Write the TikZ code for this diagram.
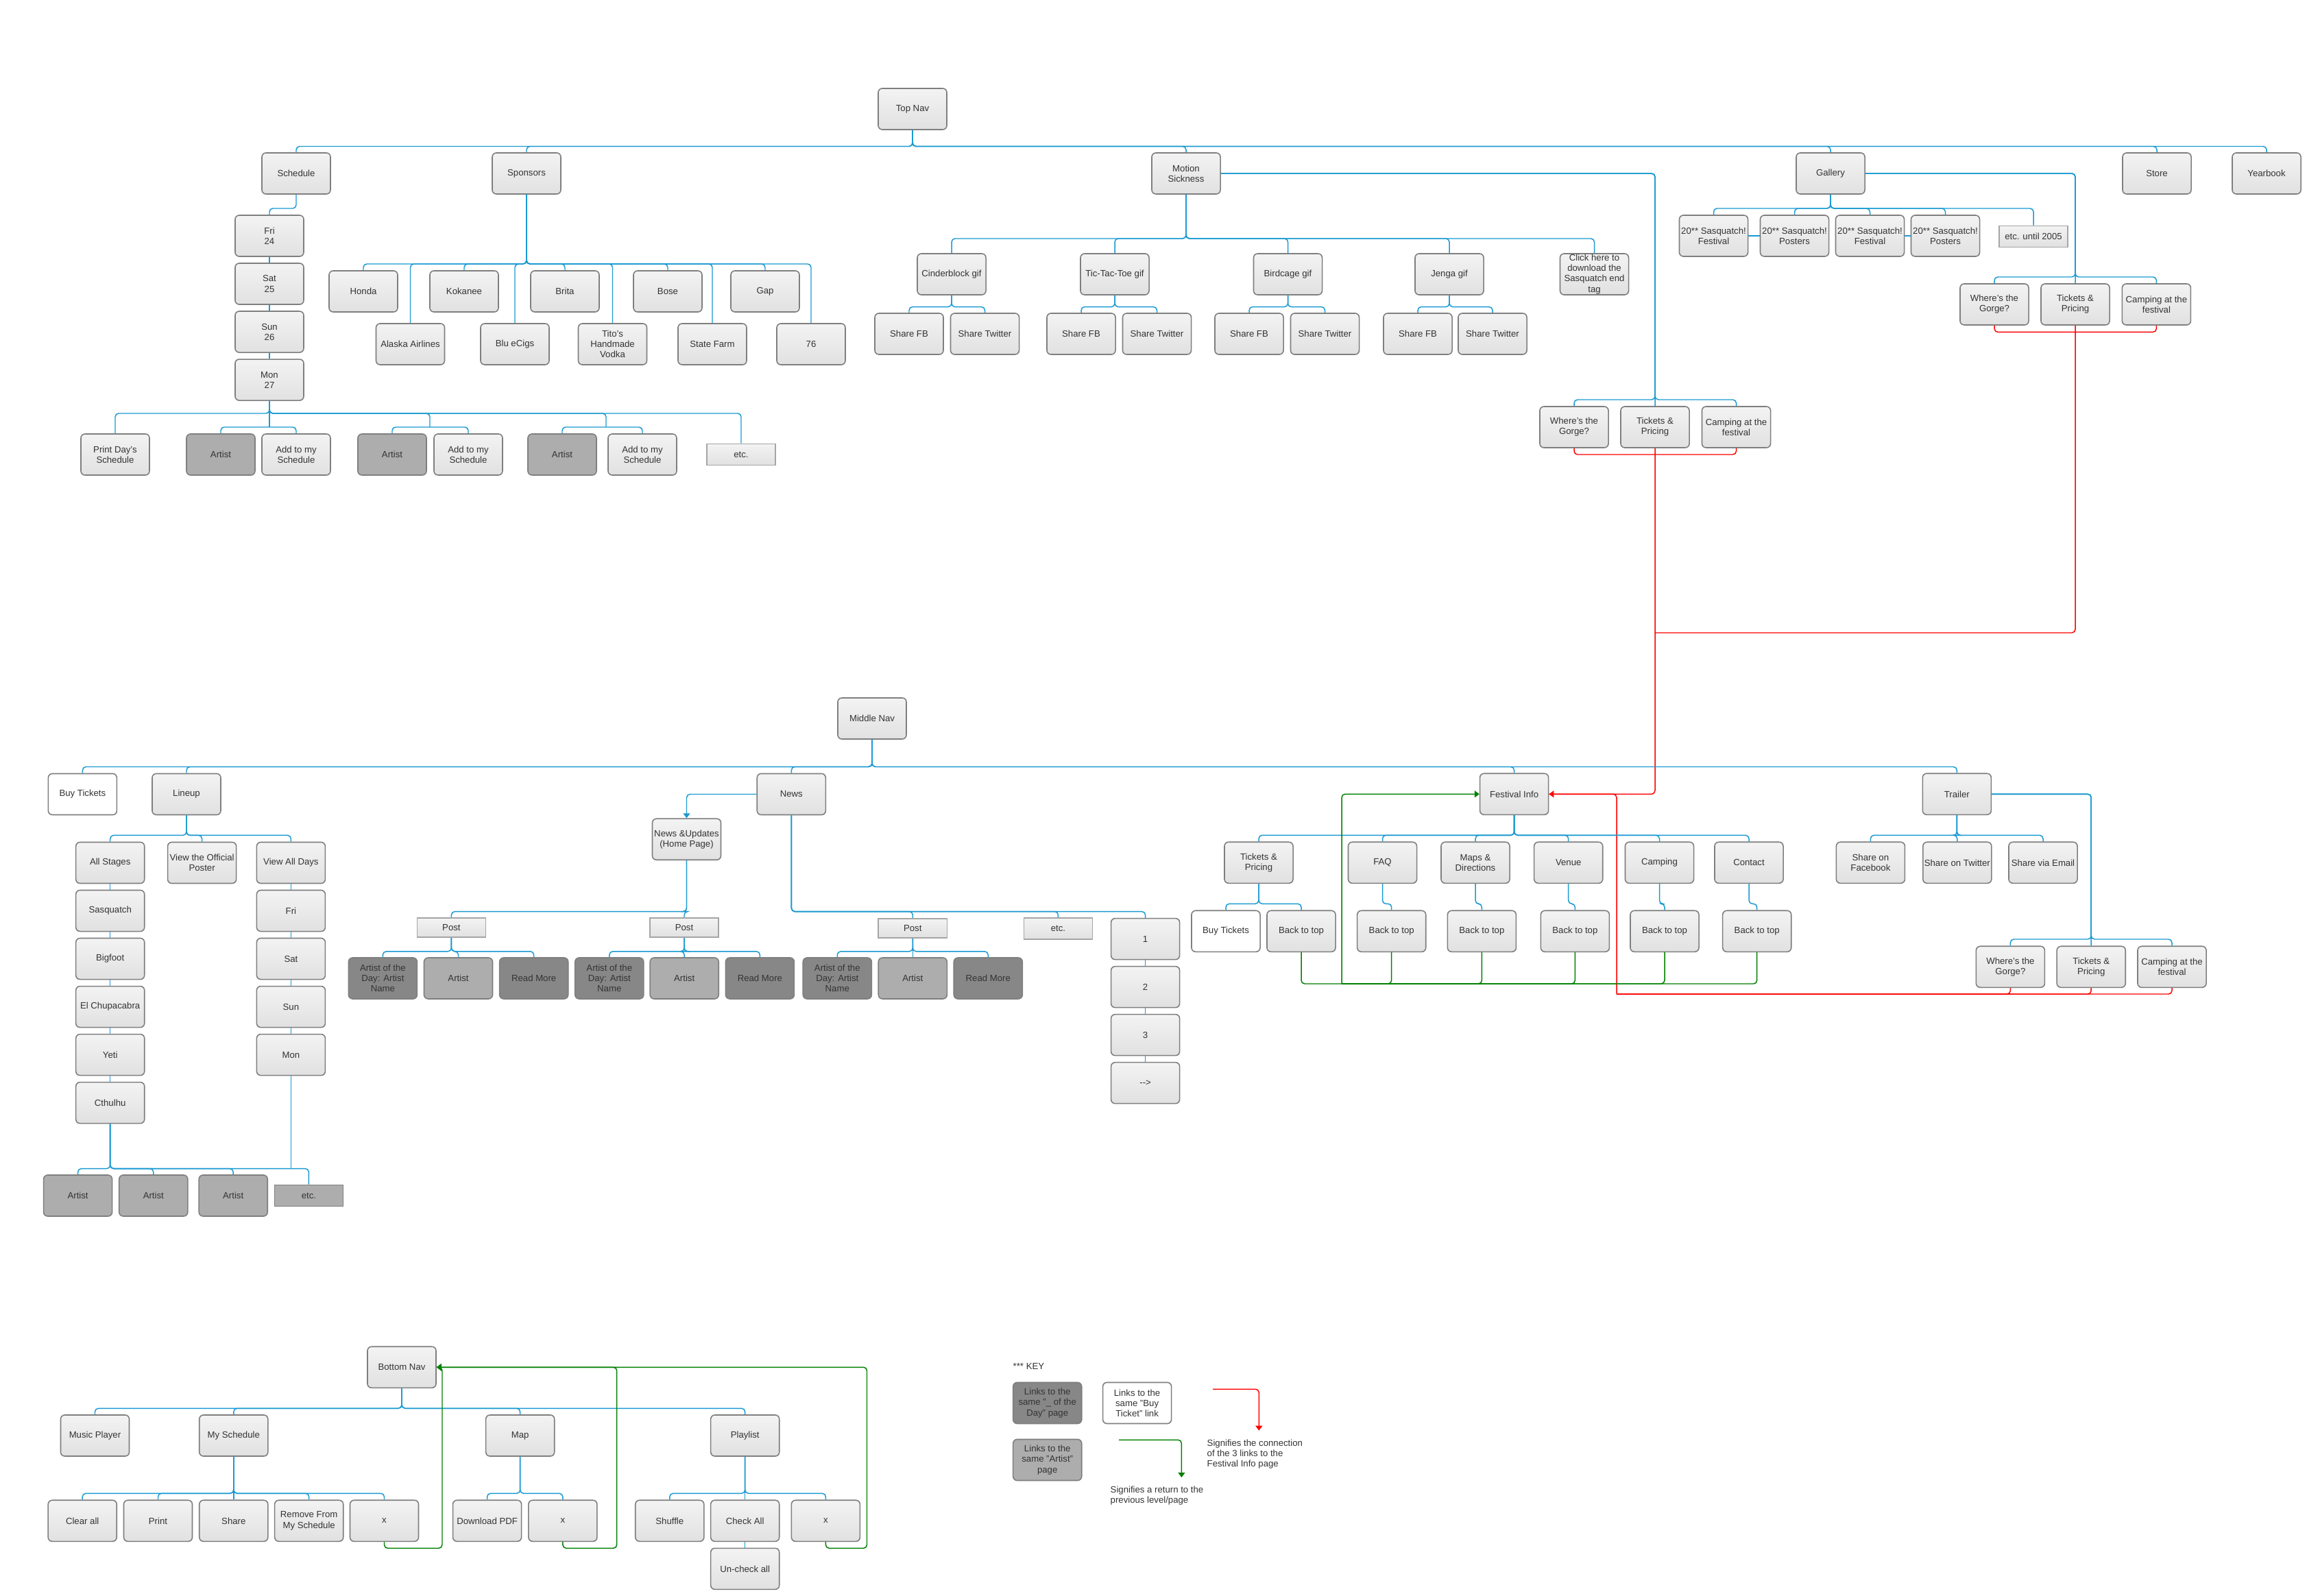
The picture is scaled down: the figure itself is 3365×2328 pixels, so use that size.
\documentclass[tikz,border=0pt]{standalone}
\usepackage{fontspec}
\setmainfont{Liberation Sans}
\usetikzlibrary{arrows.meta, positioning}
\definecolor{cLink}{HTML}{1B9AD2}
\definecolor{cBack}{HTML}{008000}
\definecolor{cEdge}{HTML}{7F7F7F}
\definecolor{cTop}{HTML}{F3F3F3}
\definecolor{cBot}{HTML}{E1E1E1}
\definecolor{cDay}{HTML}{878787}
\definecolor{cArt}{HTML}{ADADAD}
\definecolor{cText}{HTML}{333333}

\begin{document}
\begin{tikzpicture}[
  x=0.01cm, y=-0.01cm,
  node distance=0.084cm,
  font=\fontsize{3.75}{4.3}\selectfont,
  box/.style={rectangle, rounded corners=0.06cm, draw=cEdge, line width=0.45pt, top color=cTop, bottom color=cBot, minimum width=1cm, minimum height=0.6cm, inner sep=0.2pt, align=center, text=cText},
  dayart/.style={box, top color=cDay, bottom color=cDay},
  art/.style={box, top color=cArt, bottom color=cArt},
  buybox/.style={box, top color=white, bottom color=white},
  flat/.style={rectangle, draw=cEdge!70, line width=0.45pt, top color=cTop, bottom color=cBot, minimum width=1cm, minimum height=0.31cm, inner sep=0.2pt, text=cText},
  link/.style={draw=cLink, line width=0.42pt, rounded corners=0.05cm},
  tofest/.style={draw=red, line width=0.42pt, rounded corners=0.05cm},
  back/.style={draw=cBack, line width=0.42pt, rounded corners=0.05cm},
  >={Triangle[length=0.07cm, width=0.1cm]}
]
\useasboundingbox (0,0) rectangle (3365,2328);
\fill[white] (0,0) rectangle (3365,2328);

% bus levels
\coordinate (busTop) at (0,213.5);
\coordinate (busSched) at (0,304);
\coordinate (busMon) at (0,603);
\coordinate (pr1) at (393,623);
\coordinate (pr2) at (627,623);
\coordinate (pr3) at (884,623);
\coordinate (busSp) at (0,385);
\coordinate (busMS) at (0,348);
\coordinate (busShare) at (0,447.6);
\coordinate (busMSg) at (0,583);
\coordinate (redMS) at (0,663);
\coordinate (busGal) at (0,304);
\coordinate (busGalg) at (0,404);
\coordinate (redGal) at (0,484.4);
\coordinate (redJoin) at (0,923);
\coordinate (busMid) at (0,1118.5);
\coordinate (busLu) at (0,1218.4);
\coordinate (busLA) at (0,1704.6);
\coordinate (busNews) at (0,1329.6);
\coordinate (busPost) at (0,1387.8);
\coordinate (busFI) at (0,1218.3);
\coordinate (busFI2) at (0,1318.3);
\coordinate (gB) at (1957,1435);
\coordinate (busTr) at (0,1218.3);
\coordinate (busTrg) at (0,1370);
\coordinate (redTr) at (2358,1450);
\coordinate (busBot) at (0,2054.3);
\coordinate (busB2) at (0,2178.3);
\coordinate (g1) at (645,2258.3);
\coordinate (g2) at (899.7,2258.3);
\coordinate (g3) at (1264.5,2258.3);

% ---- top nav
\node[box] (TopNav) at (1331,159) {Top Nav};
\node[box] (Sched) at (432,253) {Schedule};
\node[box] (Spons) at (768,253) {Sponsors};
\node[box] (Motion) at (1730,253) {Motion\\Sickness};
\node[box] (Gallery) at (2670,253) {Gallery};
\node[box] (Store) at (3146,253) {Store};
\node[box] (Yearbook) at (3306,253) {Yearbook};

% schedule
\node[box] (dFri) at (393,344) {Fri\\24};
\node[box, below=of dFri] (dSat) {Sat\\25};
\node[box, below=of dSat] (dSun) {Sun\\26};
\node[box, below=of dSun] (dMon) {Mon\\27};
\node[box] (PrintDay) at (168,663) {Print Day's\\Schedule};
\node[art] (sArt1) at (322,663) {Artist};
\node[box] (sAdd1) at (432,663) {Add to my\\Schedule};
\node[art] (sArt2) at (572,663) {Artist};
\node[box] (sAdd2) at (683,663) {Add to my\\Schedule};
\node[art] (sArt3) at (820,663) {Artist};
\node[box] (sAdd3) at (937,663) {Add to my\\Schedule};
\node[flat] (sEtc) at (1081,663) {etc.};

% sponsors
\node[box] (spHonda) at (530,425) {Honda};
\node[box] (spKokanee) at (677,425) {Kokanee};
\node[box] (spBrita) at (824,425) {Brita};
\node[box] (spBose) at (974,425) {Bose};
\node[box] (spGap) at (1116,425) {Gap};
\node[box] (spAlaska) at (598.5,502) {Alaska Airlines};
\node[box] (spBlu) at (751,502) {Blu eCigs};
\node[box] (spTitos) at (893.5,502) {Tito's\\Handmade\\Vodka};
\node[box] (spState) at (1039,502) {State Farm};
\node[box] (spSix) at (1183,502) {76};

% motion sickness
\node[box] (gCinder) at (1388,400) {Cinderblock gif};
\node[box] (gTic) at (1626,400) {Tic-Tac-Toe gif};
\node[box] (gBird) at (1878.5,400) {Birdcage gif};
\node[box] (gJenga) at (2114,400) {Jenga gif};
\node[box] (gClick) at (2325.5,400) {Click here to\\download the\\Sasquatch end\\tag};
\node[box] (sFB1) at (1326,487) {Share FB};
\node[box] (sTw1) at (1436.5,487) {Share Twitter};
\node[box] (sFB2) at (1577,487) {Share FB};
\node[box] (sTw2) at (1687.5,487) {Share Twitter};
\node[box] (sFB3) at (1822,487) {Share FB};
\node[box] (sTw3) at (1932.5,487) {Share Twitter};
\node[box] (sFB4) at (2068,487) {Share FB};
\node[box] (sTw4) at (2177,487) {Share Twitter};
\node[box] (mWhere) at (2296,623) {Where's the\\Gorge?};
\node[box] (mTix) at (2414,623) {Tickets \&\\Pricing};
\node[box] (mCamp) at (2532.5,623) {Camping at the\\festival};

% gallery
\node[box] (gal1) at (2499.5,344) {20** Sasquatch!\\Festival};
\node[box] (gal2) at (2617.5,344) {20** Sasquatch!\\Posters};
\node[box] (gal3) at (2727.5,344) {20** Sasquatch!\\Festival};
\node[box] (gal4) at (2837.5,344) {20** Sasquatch!\\Posters};
\node[flat] (galEtc) at (2966,345) {etc. until 2005};
\node[box] (aWhere) at (2909,444) {Where's the\\Gorge?};
\node[box] (aTix) at (3027,444) {Tickets \&\\Pricing};
\node[box] (aCamp) at (3145.4,444) {Camping at the\\festival};

% ---- middle nav
\node[box] (MidNav) at (1272,1048) {Middle Nav};
\node[buybox] (BuyT) at (120.4,1158.5) {Buy Tickets};
\node[box] (Lineup) at (272,1158.5) {Lineup};
\node[box] (News) at (1154.3,1158.5) {News};
\node[box] (FestInfo) at (2208.6,1158.3) {Festival Info};
\node[box] (Trailer) at (2854.3,1158.3) {Trailer};

% lineup
\node[box] (AllStages) at (160.7,1258.5) {All Stages};
\node[box] (Poster) at (294.6,1258.5) {View the Official\\Poster};
\node[box] (AllDays) at (424.4,1258.5) {View All Days};
\node[box, below=of AllStages] (luSasq) {Sasquatch};
\node[box, below=of luSasq] (luBig) {Bigfoot};
\node[box, below=of luBig] (luChupa) {El Chupacabra};
\node[box, below=of luChupa] (luYeti) {Yeti};
\node[box, below=of luYeti] (luCth) {Cthulhu};
\node[box, below=of AllDays] (lFri) {Fri};
\node[box, below=of lFri] (lSat) {Sat};
\node[box, below=of lSat] (lSun) {Sun};
\node[box, below=of lSun] (lMon) {Mon};
\node[art] (la1) at (113.6,1744) {Artist};
\node[art] (la2) at (223.8,1744) {Artist};
\node[art] (la3) at (340.2,1744) {Artist};
\node[art, sharp corners, minimum height=0.31cm] (laEtc) at (450.4,1744) {etc.};

% news
\node[box] (NewsUpd) at (1001.5,1224.2) {News \&Updates\\(Home Page)};
\node[flat, minimum height=0.285cm] (Post1) at (658.4,1353) {Post};
\node[flat, minimum height=0.285cm] (Post2) at (998,1353) {Post};
\node[flat, minimum height=0.285cm] (Post3) at (1331.3,1354) {Post};
\node[flat] (nEtc) at (1543.4,1354.6) {etc.};
\node[dayart] (aod1) at (558.4,1427) {Artist of the\\Day: Artist\\Name};
\node[art] (pa1) at (668.5,1427) {Artist};
\node[dayart] (rm1) at (778.7,1427) {Read More};
\node[dayart] (aod2) at (888.8,1427) {Artist of the\\Day: Artist\\Name};
\node[art] (pa2) at (998.2,1427) {Artist};
\node[dayart] (rm2) at (1108.4,1427) {Read More};
\node[dayart] (aod3) at (1221.3,1427) {Artist of the\\Day: Artist\\Name};
\node[art] (pa3) at (1331.3,1427) {Artist};
\node[dayart] (rm3) at (1441.3,1427) {Read More};
\node[box] (pg1) at (1670.6,1369.6) {1};
\node[box, below=of pg1] (pg2) {2};
\node[box, below=of pg2] (pg3) {3};
\node[box, below=of pg3] (pgNext) {-{}-{}>};

% festival info
\node[box] (fTix) at (1836,1258.3) {Tickets \&\\Pricing};
\node[box] (fFAQ) at (2016.5,1258.3) {FAQ};
\node[box] (fMaps) at (2152,1258.3) {Maps \&\\Directions};
\node[box] (fVenue) at (2287.7,1258.3) {Venue};
\node[box] (fCamp) at (2420.5,1258.3) {Camping};
\node[box] (fContact) at (2551,1258.3) {Contact};
\node[buybox] (fBuy) at (1788,1358.3) {Buy Tickets};
\node[box] (bt0) at (1898,1358.3) {Back to top};
\node[box] (bt1) at (2029.7,1358.3) {Back to top};
\node[box] (bt2) at (2161.4,1358.3) {Back to top};
\node[box] (bt3) at (2297.4,1358.3) {Back to top};
\node[box] (bt4) at (2428,1358.3) {Back to top};
\node[box] (bt5) at (2562.7,1358.3) {Back to top};

% trailer
\node[box] (tFB) at (2728.4,1258.3) {Share on\\Facebook};
\node[box] (tTw) at (2854.8,1258.3) {Share on Twitter};
\node[box] (tEm) at (2980,1258.3) {Share via Email};
\node[box] (tWhere) at (2932.4,1410.3) {Where's the\\Gorge?};
\node[box] (tTix) at (3050.2,1410.3) {Tickets \&\\Pricing};
\node[box] (tCamp) at (3168,1410.3) {Camping at the\\festival};

% ---- bottom nav
\node[box] (BotNav) at (586,1994.3) {Bottom Nav};
\node[box] (Music) at (138.5,2094) {Music Player};
\node[box] (MySched) at (340.8,2094) {My Schedule};
\node[box] (Map) at (758.7,2094) {Map};
\node[box] (Playlist) at (1086.7,2094) {Playlist};
\node[box] (bClear) at (120.2,2218.3) {Clear all};
\node[box] (bPrint) at (230.5,2218.3) {Print};
\node[box] (bShare) at (340.8,2218.3) {Share};
\node[box] (bRemove) at (450.7,2218.3) {Remove From\\My Schedule};
\node[box] (bx1) at (560.5,2218.3) {x};
\node[box] (bPDF) at (710.6,2218.3) {Download PDF};
\node[box] (bx2) at (820.9,2218.3) {x};
\node[box] (bShuffle) at (976.8,2218.3) {Shuffle};
\node[box] (bCheck) at (1086.7,2218.3) {Check All};
\node[box] (bx3) at (1204.4,2218.3) {x};
\node[box, below=of bCheck] (bUncheck) {Un-check all};

% key
\node[anchor=west, inner sep=0pt, text=cText] (keyLbl) at (1477,1993) {*** KEY};
\node[dayart] (kDay) at (1527.7,2046.5) {Links to the\\same "\_ of the\\Day" page};
\node[buybox] (kBuy) at (1658.6,2046.5) {Links to the\\same "Buy\\Ticket" link};
\node[art] (kArt) at (1527.7,2129.5) {Links to the\\same "Artist"\\page};
\coordinate (kr1) at (1769,2026.3);
\coordinate (kr2) at (1836.3,2086.7);
\coordinate (kg1) at (1632,2100.3);
\coordinate (kg2) at (1723.4,2155);
\node[anchor=north west, inner sep=0pt, align=left, text=cText] (kRedTxt) at (1760,2099) {Signifies the connection\\of the 3 links to the\\Festival Info page};
\node[anchor=north west, inner sep=0pt, align=left, text=cText] (kBackTxt) at (1619,2167) {Signifies a return to the\\previous level/page};

% ---- connectors
\foreach \c in {Sched,Spons,Motion,Gallery,Store,Yearbook}
  \draw[link] (TopNav.south) -- (TopNav.south |- busTop) -| (\c.north);
\draw[link] (Sched.south) -- (Sched.south |- busSched) -| (dFri.north);
\draw[link] (dFri) -- (dSat) -- (dSun) -- (dMon);
\foreach \c in {PrintDay,sEtc}
  \draw[link] (dMon.south) -- (dMon.south |- busMon) -| (\c.north);
\foreach \p/\a/\b in {pr1/sArt1/sAdd1, pr2/sArt2/sAdd2, pr3/sArt3/sAdd3} {
  \draw[link] (dMon.south) -- (dMon.south |- busMon) -| (\p);
  \draw[link] (\p) -| (\a.north);
  \draw[link] (\p) -| (\b.north);
}
\foreach \c in {spHonda,spKokanee,spBrita,spBose,spGap,spAlaska,spBlu,spTitos,spState,spSix}
  \draw[link] (Spons.south) -- (Spons.south |- busSp) -| (\c.north);

\foreach \c in {gCinder,gTic,gBird,gJenga,gClick}
  \draw[link] (Motion.south) -- (Motion.south |- busMS) -| (\c.north);
\foreach \g/\f/\t in {gCinder/sFB1/sTw1, gTic/sFB2/sTw2, gBird/sFB3/sTw3, gJenga/sFB4/sTw4}
  \foreach \c in {\f,\t}
    \draw[link] (\g.south) -- (\g.south |- busShare) -| (\c.north);
\foreach \c in {mWhere,mTix,mCamp}
  \draw[link] (Motion.east) -| (mTix.north |- busMSg) -| (\c.north);

\foreach \c in {gal1,gal2,gal3,gal4,galEtc}
  \draw[link] (Gallery.south) -- (Gallery.south |- busGal) -| (\c.north);
\draw[link] (gal1) -- (gal2);
\draw[link] (gal3) -- (gal4);
\foreach \c in {aWhere,aTix,aCamp}
  \draw[link] (Gallery.east) -| (aTix.north |- busGalg) -| (\c.north);

% red: the three links into Festival Info
\foreach \c in {mWhere,mCamp}
  \draw[tofest] (\c.south) |- (mTix.south |- redMS);
\foreach \c in {aWhere,aCamp}
  \draw[tofest] (\c.south) |- (aTix.south |- redGal);
\draw[tofest] (aTix.south) |- (mTix.south |- redJoin);
\foreach \c in {tWhere,tTix,tCamp}
  \draw[tofest] (\c.south) |- (redTr);
\draw[tofest] (redTr) |- (FestInfo.east);
\draw[tofest, ->] (mTix.south) |- (FestInfo.east);

\foreach \c in {BuyT,Lineup,News,FestInfo,Trailer}
  \draw[link] (MidNav.south) -- (MidNav.south |- busMid) -| (\c.north);
\foreach \c in {AllStages,Poster,AllDays}
  \draw[link] (Lineup.south) -- (Lineup.south |- busLu) -| (\c.north);
\draw[link] (AllStages) -- (luSasq) -- (luBig) -- (luChupa) -- (luYeti) -- (luCth);
\draw[link] (AllDays) -- (lFri) -- (lSat) -- (lSun) -- (lMon);
\foreach \c in {la1,la2,la3,laEtc}
  \draw[link] (luCth.south) -- (luCth.south |- busLA) -| (\c.north);
\draw[link] (lMon.south) -- (lMon.south |- busLA);

\draw[link, ->] (News.west) -| (NewsUpd.north);
\foreach \c in {Post1,Post2}
  \draw[link] (NewsUpd.south) -- (NewsUpd.south |- busNews) -| (\c.north);
\foreach \c in {Post3,nEtc,pg1}
  \draw[link] (News.south) -- (News.south |- busNews) -| (\c.north);
\foreach \p/\a/\b/\r in {Post1/aod1/pa1/rm1, Post2/aod2/pa2/rm2, Post3/aod3/pa3/rm3}
  \foreach \c in {\a,\b,\r}
    \draw[link] (\p.south) -- (\p.south |- busPost) -| (\c.north);
\draw[link] (pg1) -- (pg2) -- (pg3) -- (pgNext);

\foreach \c in {fTix,fFAQ,fMaps,fVenue,fCamp,fContact}
  \draw[link] (FestInfo.south) -- (FestInfo.south |- busFI) -| (\c.north);
\foreach \a/\b in {fTix/fBuy, fTix/bt0, fFAQ/bt1, fMaps/bt2, fVenue/bt3, fCamp/bt4, fContact/bt5}
  \draw[link] (\a.south) -- (\a.south |- busFI2) -| (\b.north);
% green: back to the level above
\foreach \c in {bt0,bt1,bt2,bt3,bt4,bt5}
  \draw[back] (\c.south) |- (gB);
\draw[back, ->] (gB) |- (FestInfo.west);

\foreach \c in {tFB,tTw,tEm}
  \draw[link] (Trailer.south) -- (Trailer.south |- busTr) -| (\c.north);
\foreach \c in {tWhere,tTix,tCamp}
  \draw[link] (Trailer.east) -| (tTix.north |- busTrg) -| (\c.north);

\foreach \c in {Music,MySched,Map,Playlist}
  \draw[link] (BotNav.south) -- (BotNav.south |- busBot) -| (\c.north);
\foreach \c in {bClear,bPrint,bShare,bRemove,bx1}
  \draw[link] (MySched.south) -- (MySched.south |- busB2) -| (\c.north);
\foreach \c in {bPDF,bx2}
  \draw[link] (Map.south) -- (Map.south |- busB2) -| (\c.north);
\foreach \c in {bShuffle,bCheck,bx3}
  \draw[link] (Playlist.south) -- (Playlist.south |- busB2) -| (\c.north);
\draw[link] (bCheck) -- (bUncheck);
\foreach \x/\g in {bx1/g1, bx2/g2, bx3/g3}
  \draw[back, ->] (\x.south) |- (\g) |- (BotNav.east);

% key samples
\draw[tofest, ->] (kr1) -| (kr2);
\draw[back, ->] (kg1) -| (kg2);
\end{tikzpicture}
\end{document}
